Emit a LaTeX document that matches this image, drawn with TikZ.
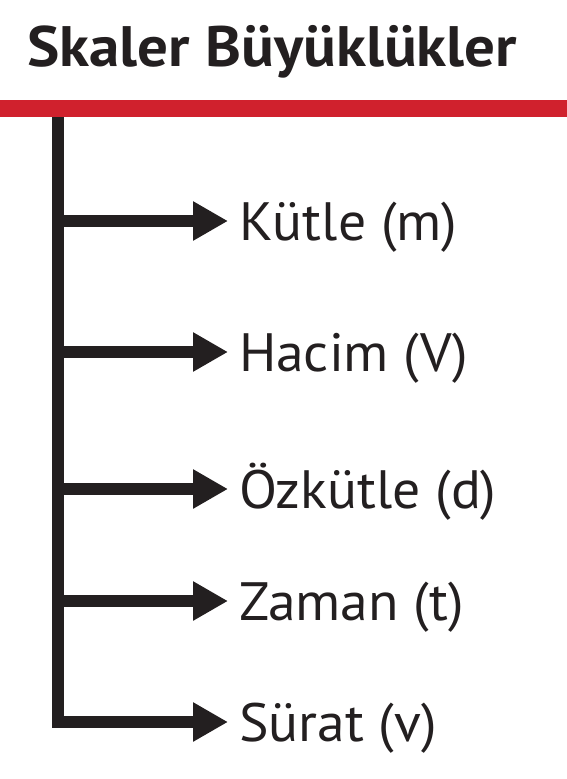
\documentclass[tikz,border=0pt]{standalone}
\usepackage{fontspec}
\setmainfont{PT Sans}[FakeStretch=1.03]
\newfontfamily\titlefont{PT Sans Bold}[FakeStretch=1.07]
\usetikzlibrary{arrows.meta}

\definecolor{barred}{RGB}{208,33,45}
\definecolor{inkblack}{RGB}{35,31,32}

\tikzset{
  label/.style={anchor=west, inner xsep=11pt, inner ysep=0pt, outer sep=0pt,
    text height=38pt, text depth=0pt, text=inkblack,
    font=\fontsize{54}{60}\selectfont},
  branch/.style={draw=inkblack, line width=12pt, line join=miter,
    -{Triangle[length=35pt, width=37pt]}},
}

\begin{document}
\begin{tikzpicture}[x=1pt, y=-1pt]
    \useasboundingbox (0, 0) rectangle (567, 779);

    \node[anchor=base west, inner sep=0pt, text=inkblack,
      font=\titlefont\fontsize{57}{60}\selectfont] (title) at (27, 66) {Skaler Büyüklükler};

    \coordinate (top) at (58, 108);
    \coordinate (b1) at (58, 221);
    \coordinate (b2) at (58, 352);
    \coordinate (b3) at (58, 489);
    \coordinate (b4) at (58, 601);

    \node[label] (mass) at (228, 221) {Kütle (m)};
    \node[label] (volume) at (228, 352) {Hacim (V)};
    \node[label] (density) at (228, 489) {Özkütle (d)};
    \node[label] (time) at (228, 601) {Zaman (t)};
    \node[label] (speed) at (228, 722) {Sürat (v)};

    \draw[branch] (top) |- (speed.west);
    \draw[branch] (b1) -- (mass.west);
    \draw[branch] (b2) -- (volume.west);
    \draw[branch] (b3) -- (density.west);
    \draw[branch] (b4) -- (time.west);

    \draw[barred, line width=17pt] (0, 108) -- (567, 108);
  \end{tikzpicture}
\end{document}
